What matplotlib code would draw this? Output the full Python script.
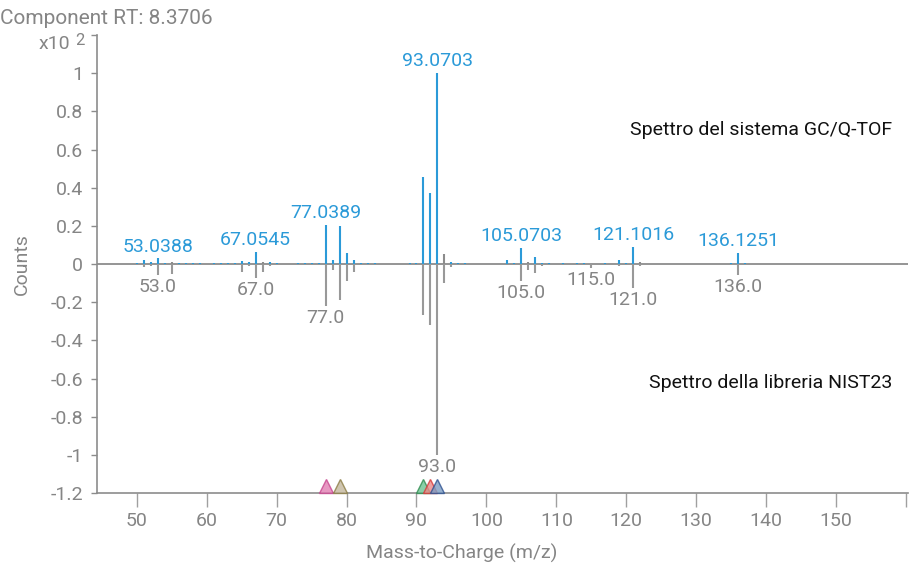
import numpy as np
import matplotlib
matplotlib.use('Agg')
import matplotlib.pyplot as plt
import matplotlib.transforms as mtransforms

plt.rcParams['font.family'] = ['Roboto', 'DejaVu Sans']

# component spectrum (upper, x10^2 counts)
upper_mz = [50, 51, 52, 53, 54, 55, 56, 57, 58, 59, 61, 62, 63, 64, 65, 66, 67, 68, 69, 70,
            73, 74, 75, 76, 77, 78, 79, 80, 81, 82, 83, 84, 89, 90, 91, 92, 93, 94, 95, 96, 97,
            103, 104, 105, 106, 107, 108, 109, 111, 113, 114, 117, 119, 120, 121, 122,
            135, 136, 137]
upper_int = [0.004, 0.02, 0.008, 0.03, 0.004, 0.008, 0.003, 0.003, 0.003, 0.003, 0.003, 0.004,
             0.006, 0.005, 0.017, 0.01, 0.065, 0.012, 0.01, 0.004,
             0.003, 0.003, 0.004, 0.004, 0.204, 0.02, 0.198, 0.059, 0.02, 0.004, 0.004, 0.003,
             0.004, 0.004, 0.456, 0.374, 1.0, 0.052, 0.012, 0.003, 0.003,
             0.02, 0.005, 0.085, 0.012, 0.038, 0.006, 0.005, 0.004, 0.003, 0.003, 0.003,
             0.02, 0.004, 0.09, 0.008, 0.004, 0.059, 0.004]
upper_gray = [55, 68, 94, 106, 122]

# library spectrum (lower, drawn negative)
lower_mz = [51, 52, 53, 55, 56, 57, 63, 65, 66, 67, 68, 69, 77, 78, 79, 80, 81,
            91, 92, 93, 94, 95, 105, 106, 107, 108, 115, 119, 121, 122, 136]
lower_int = [-0.015, -0.01, -0.06, -0.05, -0.004, -0.004, -0.005, -0.04, -0.01, -0.075,
             -0.04, -0.01, -0.219, -0.03, -0.188, -0.089, -0.04,
             -0.266, -0.318, -1.0, -0.1, -0.017, -0.09, -0.03, -0.049, -0.01,
             -0.02, -0.01, -0.127, -0.008, -0.057]

upper_lab_mz = [53, 67, 77, 93, 105, 121, 136]
upper_lab = ['53.0388', '67.0545', '77.0389', '93.0703', '105.0703', '121.1016', '136.1251']
lower_lab_mz = [53, 67, 77, 93, 105, 115, 121, 136]
lower_lab = ['53.0', '67.0', '77.0', '93.0', '105.0', '115.0', '121.0', '136.0']

# ions marked on the axis
tri_mz = [77, 79, 91, 92, 93]
tri_fill = ['#e27fb3', '#c4b79c', '#6cc393', '#ec8888', '#7b9dc4']
tri_edge = ['#c7468f', '#8c7d45', '#2f8c50', '#d63a3a', '#2e5190']

xticks = [50, 60, 70, 80, 90, 100, 110, 120, 130, 140, 150, 160]
xticklabels = ['50', '60', '70', '80', '90', '100', '110', '120', '130', '140', '150', '']
yticks = [-1.2, -1.0, -0.8, -0.6, -0.4, -0.2, 0, 0.2, 0.4, 0.6, 0.8, 1.0, 1.2]
yticklabels = ['-1.2', '-1', '-0.8', '-0.6', '-0.4', '-0.2', '0', '0.2', '0.4', '0.6', '0.8', '1', '']

blue = '#2b9ad8'
gray = '#8c8c8c'
txtgray = '#858585'
fs = 14

fig = plt.figure(figsize=(9.22, 5.63), dpi=100)
ax = fig.add_axes([0.1052, 0.1243, 0.8796, 0.8135])

ax.axhline(0, color=gray, lw=1.3, zorder=1)

ucol = [gray if m in upper_gray else blue for m in upper_mz]
ax.vlines(upper_mz, 0, upper_int, colors=ucol, lw=1.5, zorder=2)
ax.vlines(lower_mz, 0, lower_int, colors='#999999', lw=1.5, zorder=2)

for m, s in zip(upper_lab_mz, upper_lab):
    y = upper_int[upper_mz.index(m)]
    ax.annotate(s, (m, y), xytext=(0, 2), textcoords='offset points',
                ha='center', va='bottom', color=blue, fontsize=fs)
for m, s in zip(lower_lab_mz, lower_lab):
    y = lower_int[lower_mz.index(m)]
    ax.annotate(s, (m, y), xytext=(0, -2), textcoords='offset points',
                ha='center', va='top', color=txtgray, fontsize=fs)

# triangles sitting on the bottom spine
trans = mtransforms.offset_copy(ax.transData, fig=fig, x=0, y=5.2, units='points')
for m, fc, ec in zip(tri_mz, tri_fill, tri_edge):
    ax.plot([m], [-1.2], marker='^', ms=10.5, mfc=fc, mec=ec, mew=1.0,
            alpha=0.8, transform=trans, clip_on=False, zorder=3)

ax.set_xlim(44.3, 160.3)
ax.set_ylim(-1.2, 1.2)
ax.set_xticks(xticks)
ax.set_xticklabels(xticklabels)
ax.set_yticks(yticks)
ax.set_yticklabels(yticklabels)

for sp in ['top', 'right']:
    ax.spines[sp].set_visible(False)
for sp in ['left', 'bottom']:
    ax.spines[sp].set_color(gray)
    ax.spines[sp].set_linewidth(1.2)

ax.tick_params(axis='x', length=10, width=1, color='#a0a0a0', labelcolor=txtgray,
               labelsize=fs, pad=4)
ax.tick_params(axis='y', length=4, width=1, color=gray, labelcolor=txtgray,
               labelsize=fs, pad=6)

ax.set_xlabel('Mass-to-Charge (m/z)', color=txtgray, fontsize=fs)
ax.xaxis.set_label_coords(0.45, -0.11)
ax.set_ylabel('Counts', color=txtgray, fontsize=fs, labelpad=14)

btrans = mtransforms.blended_transform_factory(ax.transAxes, ax.transData)
ax.text(-0.033, 1.2, 'x10', transform=btrans,
        ha='right', va='top', color=txtgray, fontsize=fs)
ax.text(-0.027, 1.21, '2', transform=btrans,
        ha='left', va='top', color=txtgray, fontsize=fs - 2)

fig.text(0.0, 0.968, 'Component RT: 8.3706', ha='left', va='center', color=txtgray, fontsize=15)

ax.text(0.98, 0.7926, 'Spettro del sistema GC/Q-TOF', transform=ax.transAxes,
        ha='right', va='center', color='#111111', fontsize=fs)
ax.text(0.98, 0.240, 'Spettro della libreria NIST23', transform=ax.transAxes,
        ha='right', va='center', color='#111111', fontsize=fs)

fig.savefig('out.png', dpi=100)
